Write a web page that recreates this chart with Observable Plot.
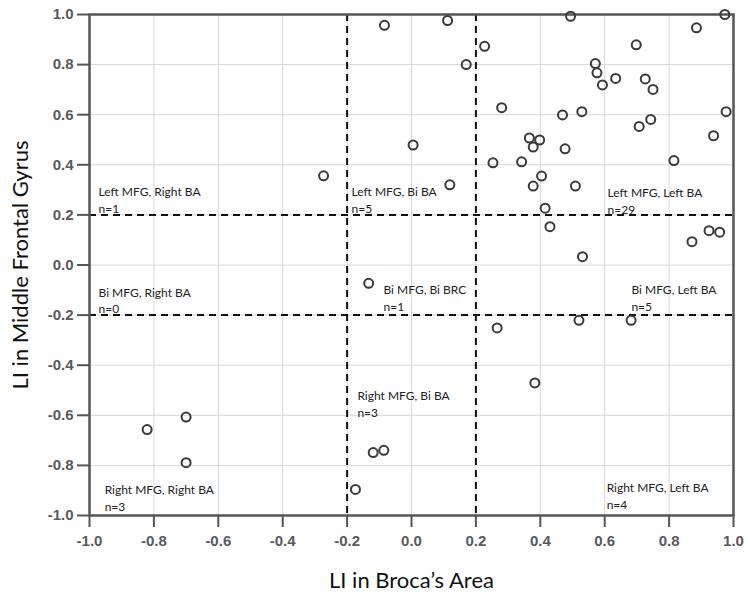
<!DOCTYPE html>
<html>
<head>
<meta charset="utf-8">
<script src="https://cdn.jsdelivr.net/npm/d3@7"></script>
<script src="https://cdn.jsdelivr.net/npm/@observablehq/plot@0.6"></script>
<style>
  html, body { margin: 0; padding: 0; background: #fff; }
  #chart { width: 750px; height: 593px; }
</style>
</head>
<body>
<div id="chart"></div>
<script>
// LI in Broca's Area (x) vs LI in Middle Frontal Gyrus (y)
const brocaLI = [
  0.494, 0.973, 0.885, 0.698, 0.571, 0.576, 0.593, 0.634, 0.726, 0.750,
  0.469, 0.529, 0.743, 0.707, 0.977, 0.938, 0.366, 0.398, 0.378, 0.477,
  0.253, 0.342, 0.815, 0.404, 0.378, 0.509, 0.415, 0.227, 0.280,
  -0.084, 0.112, 0.170, 0.005, 0.119,
  -0.273,
  0.430, 0.531, 0.871, 0.924, 0.957,
  -0.133,
  0.266, 0.520, 0.682, 0.383,
  -0.086, -0.119, -0.174,
  -0.821, -0.700, -0.700
];
const mfgLI = [
  0.993, 1.000, 0.947, 0.879, 0.804, 0.767, 0.719, 0.745, 0.743, 0.701,
  0.599, 0.612, 0.581, 0.553, 0.612, 0.516, 0.507, 0.499, 0.471, 0.464,
  0.408, 0.412, 0.417, 0.355, 0.315, 0.315, 0.227, 0.873, 0.628,
  0.957, 0.976, 0.800, 0.479, 0.320,
  0.356,
  0.153, 0.033, 0.093, 0.137, 0.131,
  -0.073,
  -0.251, -0.221, -0.221, -0.471,
  -0.740, -0.749, -0.896,
  -0.657, -0.607, -0.789
];

// Cut-offs separating left / bilateral / right lateralization
const cutoffs = [-0.2, 0.2];

// Axis ticks
const tickValues = [-1.0, -0.8, -0.6, -0.4, -0.2, 0.0, 0.2, 0.4, 0.6, 0.8, 1.0];

// Region labels (anchored in data coordinates)
const regionText = [
  "Left MFG, Right BA\nn=1",
  "Left MFG, Bi BA\nn=5",
  "Left MFG, Left BA\nn=29",
  "Bi MFG, Right BA\nn=0",
  "Bi MFG, Bi BRC\nn=1",
  "Bi MFG, Left BA\nn=5",
  "Right MFG, Bi BA\nn=3",
  "Right MFG, Right BA\nn=3",
  "Right MFG, Left BA\nn=4"
];
const regionX = [-0.972, -0.186, 0.609, -0.972, -0.087, 0.683, -0.168, -0.953, 0.606];
const regionY = [0.262, 0.262, 0.258, -0.138, -0.128, -0.128, -0.552, -0.928, -0.920];

const xTitle = "LI in Broca\u2019s Area";
const yTitle = "LI in Middle Frontal Gyrus";

const points = brocaLI.map((x, i) => ({x, y: mfgLI[i]}));
const regions = regionText.map((t, i) => ({t, x: regionX[i], y: regionY[i]}));

const tickFont = "Liberation Sans, Arial, sans-serif";
const textFont = "Lato, 'Open Sans', sans-serif";

const chart = Plot.plot({
  width: 750,
  height: 593,
  marginLeft: 89,
  marginRight: 17,
  marginTop: 14,
  marginBottom: 78,
  style: {background: "#fff", fontFamily: textFont},
  x: {domain: [-1, 1]},
  y: {domain: [-1, 1]},
  marks: [
    Plot.gridX(tickValues, {stroke: "#d8d8d8", strokeOpacity: 1, strokeWidth: 1}),
    Plot.gridY(tickValues, {stroke: "#d8d8d8", strokeOpacity: 1, strokeWidth: 1}),
    Plot.ruleX(cutoffs, {stroke: "#111", strokeWidth: 2, strokeDasharray: "7,5"}),
    Plot.ruleY(cutoffs, {stroke: "#111", strokeWidth: 2, strokeDasharray: "7,5"}),
    Plot.frame({stroke: "#555", strokeWidth: 2.5}),
    Plot.axisX({
      ticks: tickValues, tickFormat: d => d.toFixed(1), tickSize: 12, tickPadding: 8,
      stroke: "#555", strokeWidth: 2, fontSize: 15, fontWeight: "bold",
      fill: "#5a5a5a", fontFamily: tickFont, label: null
    }),
    Plot.axisY({
      ticks: tickValues, tickFormat: d => d.toFixed(1), tickSize: 12, tickPadding: 4,
      stroke: "#555", strokeWidth: 2, fontSize: 15, fontWeight: "bold",
      fill: "#5a5a5a", fontFamily: tickFont, label: null
    }),
    Plot.text(regions, {
      x: "x", y: "y", text: "t", textAnchor: "start", lineAnchor: "middle",
      lineHeight: 1.4, fontSize: 12, fill: "#222", fontFamily: textFont
    }),
    Plot.dot(points, {x: "x", y: "y", r: 4.5, stroke: "#3a3a3a", strokeWidth: 2, fill: "none"}),
    Plot.text([xTitle], {
      frameAnchor: "bottom", text: d => d, dy: 65, fontSize: 22, fill: "#111",
      fontFamily: textFont, textAnchor: "middle", lineAnchor: "middle"
    }),
    Plot.text([yTitle], {
      frameAnchor: "left", text: d => d, dx: -69, rotate: -90, fontSize: 22, fill: "#111",
      fontFamily: textFont, textAnchor: "middle", lineAnchor: "middle"
    })
  ]
});
document.getElementById("chart").appendChild(chart);
</script>
</body>
</html>
